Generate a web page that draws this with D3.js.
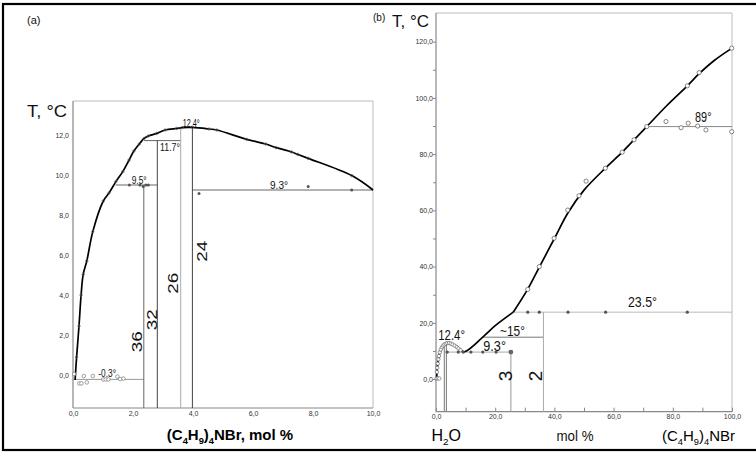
<!DOCTYPE html>
<html><head><meta charset="utf-8">
<script src="https://cdn.jsdelivr.net/npm/d3@7"></script>
<style>body{margin:0;background:#fff}svg{display:block}text{font-family:"Liberation Sans",Arial,sans-serif}</style>
</head><body>
<script>
// ---------- DATA (panel a) ----------
const aXTicks = [0, 2, 4, 6, 8, 10];
const aYTicks = [0, 2, 4, 6, 8, 10, 12];
const aLiquidus = [[0.07,-0.25],[0.12,0.9],[0.2,2.45],[0.27,4.0],[0.34,5.03],[0.46,5.7],[0.66,7.17],[1.01,8.7],[1.2,9.1],[1.43,9.67],[1.66,10.17],[1.87,10.75],[2.03,11.2],[2.21,11.55],[2.37,11.83],[2.51,11.95],[2.79,12.08],[3.07,12.25],[3.46,12.33],[3.64,12.37],[3.98,12.38],[4.54,12.3],[4.79,12.25],[5.79,11.78],[6.42,11.55],[6.77,11.37],[7.29,11.15],[7.49,11.03],[7.84,10.83],[9.29,9.97],[10.0,9.25]];
const aOpen = [[0.04,0.05],[0.21,-0.42],[0.28,-0.42],[0.36,-0.05],[0.46,-0.37],[0.66,-0.05],[1.01,-0.22],[1.09,-0.22],[1.18,-0.22],[1.48,-0.08],[1.57,-0.2],[1.68,-0.18]];
const aFilled = [[1.88,9.5],[2.23,9.5],[2.34,9.42],[2.43,9.5],[2.51,9.5],[4.2,9.08],[7.84,9.42],[9.29,9.25]];
// horizontal isotherms: [T, x0, x1, colour]
const aHoriz = [[-0.22,0.0,2.36,"#999"],[9.5,1.42,2.81,"#666"],[11.72,2.37,3.59,"#666"],[9.25,3.98,10,"#666"]];
// vertical compound lines: [x, Ttop, label, colour]
const aVert = [[2.36,9.5,"36","#666"],[2.81,11.72,"32","#444"],[3.59,12.3,"26","#aaa"],[3.98,12.38,"24","#444"]];

// ---------- DATA (panel b) ----------
const bXTicks = [0, 20, 40, 60, 80, 100];
const bYTicks = [0, 20, 40, 60, 80, 100, 120];
const bLiqLow = [[0.2,0],[0.4,3.5],[0.8,7],[1.3,9.5],[2,11.4],[3,12.5],[4,12.9],[5,12.7],[6.5,11.9],[8,10.7],[9.6,9.7],[16.6,15.7],[19.9,18.9],[26.1,23.8]];
const bLiqHigh = [[26.1,23.8],[31,32],[35,40],[40,50],[44.5,59],[50,67.2],[57.2,75],[62.9,80.7],[66.9,85.1],[71.2,89.8],[78,97.3],[84.9,104.3],[88.9,108.6],[94,113.3],[100,117.7]];
const bOpenLow = [[0.2,0.2],[0.6,0.3],[1.1,0.2],[0.3,2.5],[0.4,4],[0.6,5.5],[0.8,7],[1.0,8.2],[1.3,9.5],[1.6,10.5],[2,11.3],[2.4,11.9],[2.8,12.3],[3.3,12.6],[3.8,12.8],[4.4,12.8],[5,12.6],[5.6,12.3],[6.3,11.9],[7,11.4],[7.6,10.9],[8.3,10.3]];
const bOpen = [[31,31.9],[34.9,40],[39.9,50.1],[44.5,60.1],[48.3,65.2],[50.7,70.4],[57.2,75],[62.9,80.7],[66.9,85.1],[71.2,89.8],[84.9,104.3],[88.9,109],[99.9,117.7],
  [77.7,91.6],[82.8,89.4],[85.2,91],[88.4,90],[91.2,88.6],[99.9,88]];
const bFilled = [[3.8,9.6],[7.5,9.6],[9.2,9.6],[11.8,9.6],[15.8,9.6],[20.3,9.6],[31,23.8],[34.9,23.8],[44.6,23.8],[57.3,23.8],[84.9,23.8]];
const bBigDot = [[25.3,9.6]];
const bHoriz = [[89.8,71.2,100,"#888"],[23.8,26.1,100,"#bbb"],[14.9,15.6,36.3,"#777"],[9.6,3.0,25.3,"#aaa"]];
const bVert = [[36.3,23.8,"#aaa"],[25.3,9.6,"#999"],[2.8,12.7,"#777"],[3.5,12.7,"#777"]];
const bVertLabels = [[25.3,"3"],[36.3,"2"]];

// ---------- SETUP ----------
const W = 756, H = 453;
const svg = d3.select("body").append("svg").attr("width", W).attr("height", H);
svg.append("rect").attr("x",3).attr("y",4).attr("width",W+10).attr("height",446)
  .attr("fill","#fff").attr("stroke","#000").attr("stroke-width",2.2);

const fmt = d => d3.format(".1f")(d).replace(".", ",");

function chem(g, x, y, parts, size, anchor, weight) {
  const t = g.append("text").attr("x", x).attr("y", y).attr("font-size", size)
    .attr("text-anchor", anchor || "start").attr("font-weight", weight || "normal").attr("fill","#000");
  let sub = false;
  parts.forEach(([s, isSub]) => {
    const ts = t.append("tspan").text(s);
    if (isSub && !sub) { ts.attr("dy", size*0.28).attr("font-size", size*0.62); sub = true; }
    else if (isSub) { ts.attr("font-size", size*0.62); }
    else if (!isSub && sub) { ts.attr("dy", -size*0.28); sub = false; }
  });
  return t;
}
function label(g, x, y, s, size, len, anchor) {
  const t = g.append("text").attr("x", x).attr("y", y).attr("font-size", size)
    .attr("text-anchor", anchor || "start").attr("fill", "#111").text(s);
  if (len) t.attr("textLength", len).attr("lengthAdjust", "spacingAndGlyphs");
  return t;
}

// ---------- PANEL A ----------
const xA = d3.scaleLinear().domain([0, 10]).range([73, 373]);
const yA = d3.scaleLinear().domain([-1.65, 13.7]).range([408, 101]);
const gA = svg.append("g");
gA.append("line").attr("x1",xA(0)).attr("x2",xA(10)).attr("y1",yA(13.7)).attr("y2",yA(13.7)).attr("stroke","#bbb");
gA.append("line").attr("x1",xA(10)).attr("x2",xA(10)).attr("y1",yA(13.7)).attr("y2",yA(-1.65)).attr("stroke","#bbb");
gA.append("line").attr("x1",xA(0)).attr("x2",xA(0)).attr("y1",yA(13.7)).attr("y2",yA(-1.65)).attr("stroke","#888").attr("stroke-width",1.2);
gA.append("line").attr("x1",xA(0)).attr("x2",xA(10)).attr("y1",yA(-1.65)).attr("y2",yA(-1.65)).attr("stroke","#888").attr("stroke-width",1.2);

const axAx = gA.append("g").attr("transform",`translate(0,${yA(-1.65)})`)
  .call(d3.axisBottom(xA).tickValues(aXTicks).tickFormat(fmt).tickSize(0).tickPadding(3));
const axAy = gA.append("g").attr("transform",`translate(${xA(0)},0)`)
  .call(d3.axisLeft(yA).tickValues(aYTicks).tickFormat(fmt).tickSize(0).tickPadding(4));
[axAx, axAy].forEach(a => { a.select(".domain").remove(); a.selectAll("text").attr("font-size",7).attr("fill","#333").attr("font-family","Liberation Sans, Arial"); });

aHoriz.forEach(([t,x0,x1,c]) => gA.append("line").attr("x1",xA(x0)).attr("x2",xA(x1)).attr("y1",yA(t)).attr("y2",yA(t)).attr("stroke",c).attr("stroke-width",1));
aVert.forEach(([x,t,lab,c]) => gA.append("line").attr("x1",xA(x)).attr("x2",xA(x)).attr("y1",yA(-1.65)).attr("y2",yA(t)).attr("stroke",c).attr("stroke-width",1));

gA.append("path").datum(aLiquidus)
  .attr("d", d3.line().x(d=>xA(d[0])).y(d=>yA(d[1])).curve(d3.curveCatmullRom.alpha(0.5)))
  .attr("fill","none").attr("stroke","#000").attr("stroke-width",1.7);
gA.selectAll(".ac").data(aLiquidus.slice(1, -1)).join("circle").attr("cx",d=>xA(d[0])).attr("cy",d=>yA(d[1])).attr("r",1.3)
  .attr("fill","none").attr("stroke","#666").attr("stroke-width",0.6);
gA.selectAll(".ao").data(aOpen).join("circle").attr("cx",d=>xA(d[0])).attr("cy",d=>yA(d[1])).attr("r",1.8)
  .attr("fill","#fff").attr("stroke","#777").attr("stroke-width",0.7);
gA.selectAll(".af").data(aFilled).join("circle").attr("cx",d=>xA(d[0])).attr("cy",d=>yA(d[1])).attr("r",1.5)
  .attr("fill","#555");

const aVertLabelPos = [[136.7,341.7],[151.7,319.7],[173.3,283.3],[201.7,251.2]];
aVert.forEach(([x,t,lab], i) => {
  const [cx, cy] = aVertLabelPos[i];
  gA.append("text").attr("transform",`translate(${cx+5},${cy}) rotate(-90)`).attr("text-anchor","middle")
    .attr("font-size",15).attr("textLength",21).attr("lengthAdjust","spacingAndGlyphs").attr("fill","#111").text(lab);
});
label(gA, 182.7, 127, "12.4°", 10, 17);
label(gA, 160, 150.5, "11.7°", 10, 20);
label(gA, 131.7, 184, "9.5°", 10, 15);
label(gA, 270, 189, "9.3°", 10, 18);
label(gA, 98.3, 376.5, "-0.3°", 10, 17.7);

label(svg, 27, 24, "(a)", 11);
label(svg, 27, 117, "T, °C", 17, 40);
chem(svg, 230, 440, [["(C",0],["4",1],["H",0],["9",1],[")",0],["4",1],["NBr, mol %",0]], 15, "middle", "bold");

// ---------- PANEL B ----------
const xB = d3.scaleLinear().domain([0, 100]).range([436, 732]);
const yB = d3.scaleLinear().domain([-11.6, 130.2]).range([411.7, 13]);
const gB = svg.append("g");
gB.append("line").attr("x1",xB(0)).attr("x2",xB(100)).attr("y1",yB(130.2)).attr("y2",yB(130.2)).attr("stroke","#bbb");
gB.append("line").attr("x1",xB(100)).attr("x2",xB(100)).attr("y1",yB(130.2)).attr("y2",yB(-11.6)).attr("stroke","#bbb");
gB.append("line").attr("x1",xB(0)).attr("x2",xB(0)).attr("y1",yB(130.2)).attr("y2",yB(-11.6)).attr("stroke","#888").attr("stroke-width",1.2);
gB.append("line").attr("x1",xB(0)).attr("x2",xB(100)).attr("y1",yB(-11.6)).attr("y2",yB(-11.6)).attr("stroke","#888").attr("stroke-width",1.2);

const bxTickVals = d3.range(0, 101, 10), byTickVals = d3.range(0, 121, 10);
const axBx = gB.append("g").attr("transform",`translate(0,${yB(-11.6)})`)
  .call(d3.axisBottom(xB).tickValues(bxTickVals).tickFormat(d => bXTicks.includes(d) ? fmt(d) : "").tickSize(-4).tickPadding(2));
const axBy = gB.append("g").attr("transform",`translate(${xB(0)},0)`)
  .call(d3.axisLeft(yB).tickValues(byTickVals).tickFormat(d => bYTicks.includes(d) ? fmt(d) : "").tickSize(3).tickPadding(0));
[axBx, axBy].forEach(a => { a.select(".domain").remove(); a.selectAll("line").attr("stroke","#888");
  a.selectAll("text").attr("font-size",7).attr("fill","#333").attr("font-family","Liberation Sans, Arial"); });

bHoriz.forEach(([t,x0,x1,c]) => gB.append("line").attr("x1",xB(x0)).attr("x2",xB(x1)).attr("y1",yB(t)).attr("y2",yB(t)).attr("stroke",c).attr("stroke-width",1));
bVert.forEach(([x,t,c]) => gB.append("line").attr("x1",xB(x)).attr("x2",xB(x)).attr("y1",yB(-11.6)).attr("y2",yB(t)).attr("stroke",c).attr("stroke-width",1));

const lineB = d3.line().x(d=>xB(d[0])).y(d=>yB(d[1])).curve(d3.curveCatmullRom.alpha(0.5));
[bLiqLow, bLiqHigh].forEach(seg => gB.append("path").datum(seg).attr("d", lineB)
  .attr("fill","none").attr("stroke","#000").attr("stroke-width",1.7));
gB.selectAll(".bl").data(bOpenLow).join("circle").attr("cx",d=>xB(d[0])).attr("cy",d=>yB(d[1])).attr("r",1.7)
  .attr("fill","#fff").attr("stroke","#555").attr("stroke-width",0.6);
gB.selectAll(".bo").data(bOpen).join("circle").attr("cx",d=>xB(d[0])).attr("cy",d=>yB(d[1])).attr("r",2.1)
  .attr("fill","#fff").attr("stroke","#555").attr("stroke-width",0.7);
gB.selectAll(".bf").data(bFilled).join("circle").attr("cx",d=>xB(d[0])).attr("cy",d=>yB(d[1])).attr("r",1.6).attr("fill","#555");
gB.selectAll(".bb").data(bBigDot).join("circle").attr("cx",d=>xB(d[0])).attr("cy",d=>yB(d[1])).attr("r",2.4).attr("fill","#666");

const bVertLabelPos = [[505,376],[535.3,376]];
bVertLabels.forEach(([x,lab], i) => {
  const [cx, cy] = bVertLabelPos[i];
  gB.append("text").attr("transform",`translate(${cx+7},${cy}) rotate(-90)`).attr("text-anchor","middle")
    .attr("font-size",19).attr("fill","#111").text(lab);
});
label(gB, 695, 122, "89°", 15, 16.5);
label(gB, 628, 307, "23.5°", 15, 29);
label(gB, 500, 336, "~15°", 15, 25);
label(gB, 483.3, 350.7, "9.3°", 15, 22.7);
label(gB, 438.3, 340, "12.4°", 15, 26.7);

label(svg, 373, 21, "(b)", 10);
label(svg, 392, 27, "T, °C", 17, 37);
chem(svg, 431.5, 441, [["H",0],["2",1],["O",0]], 16, "start");
label(svg, 575, 441, "mol %", 15, 37, "middle");
chem(svg, 735, 441, [["(C",0],["4",1],["H",0],["9",1],[")",0],["4",1],["NBr",0]], 15, "end");
</script>
</body></html>
